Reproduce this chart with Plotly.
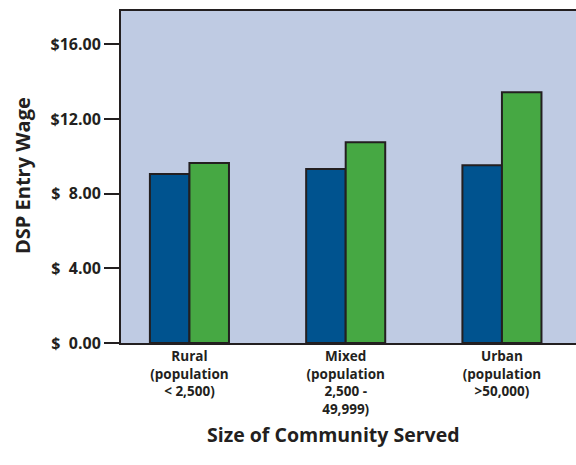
import plotly.graph_objects as go

# Entry wage for direct support professionals by community size
categories = [
    "Rural<br>(population<br>< 2,500)",
    "Mixed<br>(population<br>2,500 -<br>49,999)",
    "Urban<br>(population<br>>50,000)",
]
wage_blue = [9.05, 9.33, 9.53]
wage_green = [9.65, 10.76, 13.44]

y_tick_vals = [0, 4, 8, 12, 16]
y_tick_text = ["$  0.00", "$  4.00", "$  8.00", "$12.00", "$16.00"]

INK = "#231F20"
FONT = "Open Sans"

# plot-area geometry in pixels
W, H = 576, 465
L, R, T, B = 121, 0, 11, 122
PW, PH = W - L - R, H - T - B


def px_x(x):
    return (x - L) / PW


def px_y(y):
    return (H - B - y) / PH


fig = go.Figure()
fig.add_trace(go.Bar(
    x=categories, y=wage_blue, name="Series 1",
    marker=dict(color="#00538F", line=dict(color=INK, width=2)),
))
fig.add_trace(go.Bar(
    x=categories, y=wage_green, name="Series 2",
    marker=dict(color="#46A843", line=dict(color=INK, width=2)),
))

annotations = [
    dict(
        text="Size of Community Served",
        xref="paper", yref="paper", x=px_x(333), y=px_y(434),
        xanchor="center", yanchor="middle", showarrow=False,
        font=dict(family=FONT, size=19.5, color=INK, weight="bold"),
    ),
    dict(
        text="DSP Entry Wage", textangle=-90,
        xref="paper", yref="paper", x=px_x(22), y=px_y(176),
        xanchor="center", yanchor="middle", showarrow=False,
        font=dict(family=FONT, size=20, color=INK, weight="bold"),
    ),
]

fig.update_layout(
    width=W, height=H,
    margin=dict(l=L, r=R, t=T, b=B),
    paper_bgcolor="white",
    plot_bgcolor="#BFCBE3",
    barmode="group",
    bargap=0.494,
    bargroupgap=0,
    showlegend=False,
    font=dict(family=FONT, color=INK),
    xaxis=dict(
        range=[-0.438, 2.474],
        showline=True, linecolor=INK, linewidth=2, mirror=True,
        ticks="", showgrid=False,
        tickfont=dict(family=FONT, size=13.5, color=INK, weight="bold"),
    ),
    yaxis=dict(
        range=[0, 17.79],
        tickvals=y_tick_vals, ticktext=y_tick_text,
        showline=True, linecolor=INK, linewidth=2,
        ticks="outside", ticklen=15, tickwidth=2, tickcolor=INK,
        showgrid=False, zeroline=False,
        tickfont=dict(family=FONT, size=16, color=INK, weight="bold"),
    ),
    annotations=annotations,
)

fig.write_html("out.html")
